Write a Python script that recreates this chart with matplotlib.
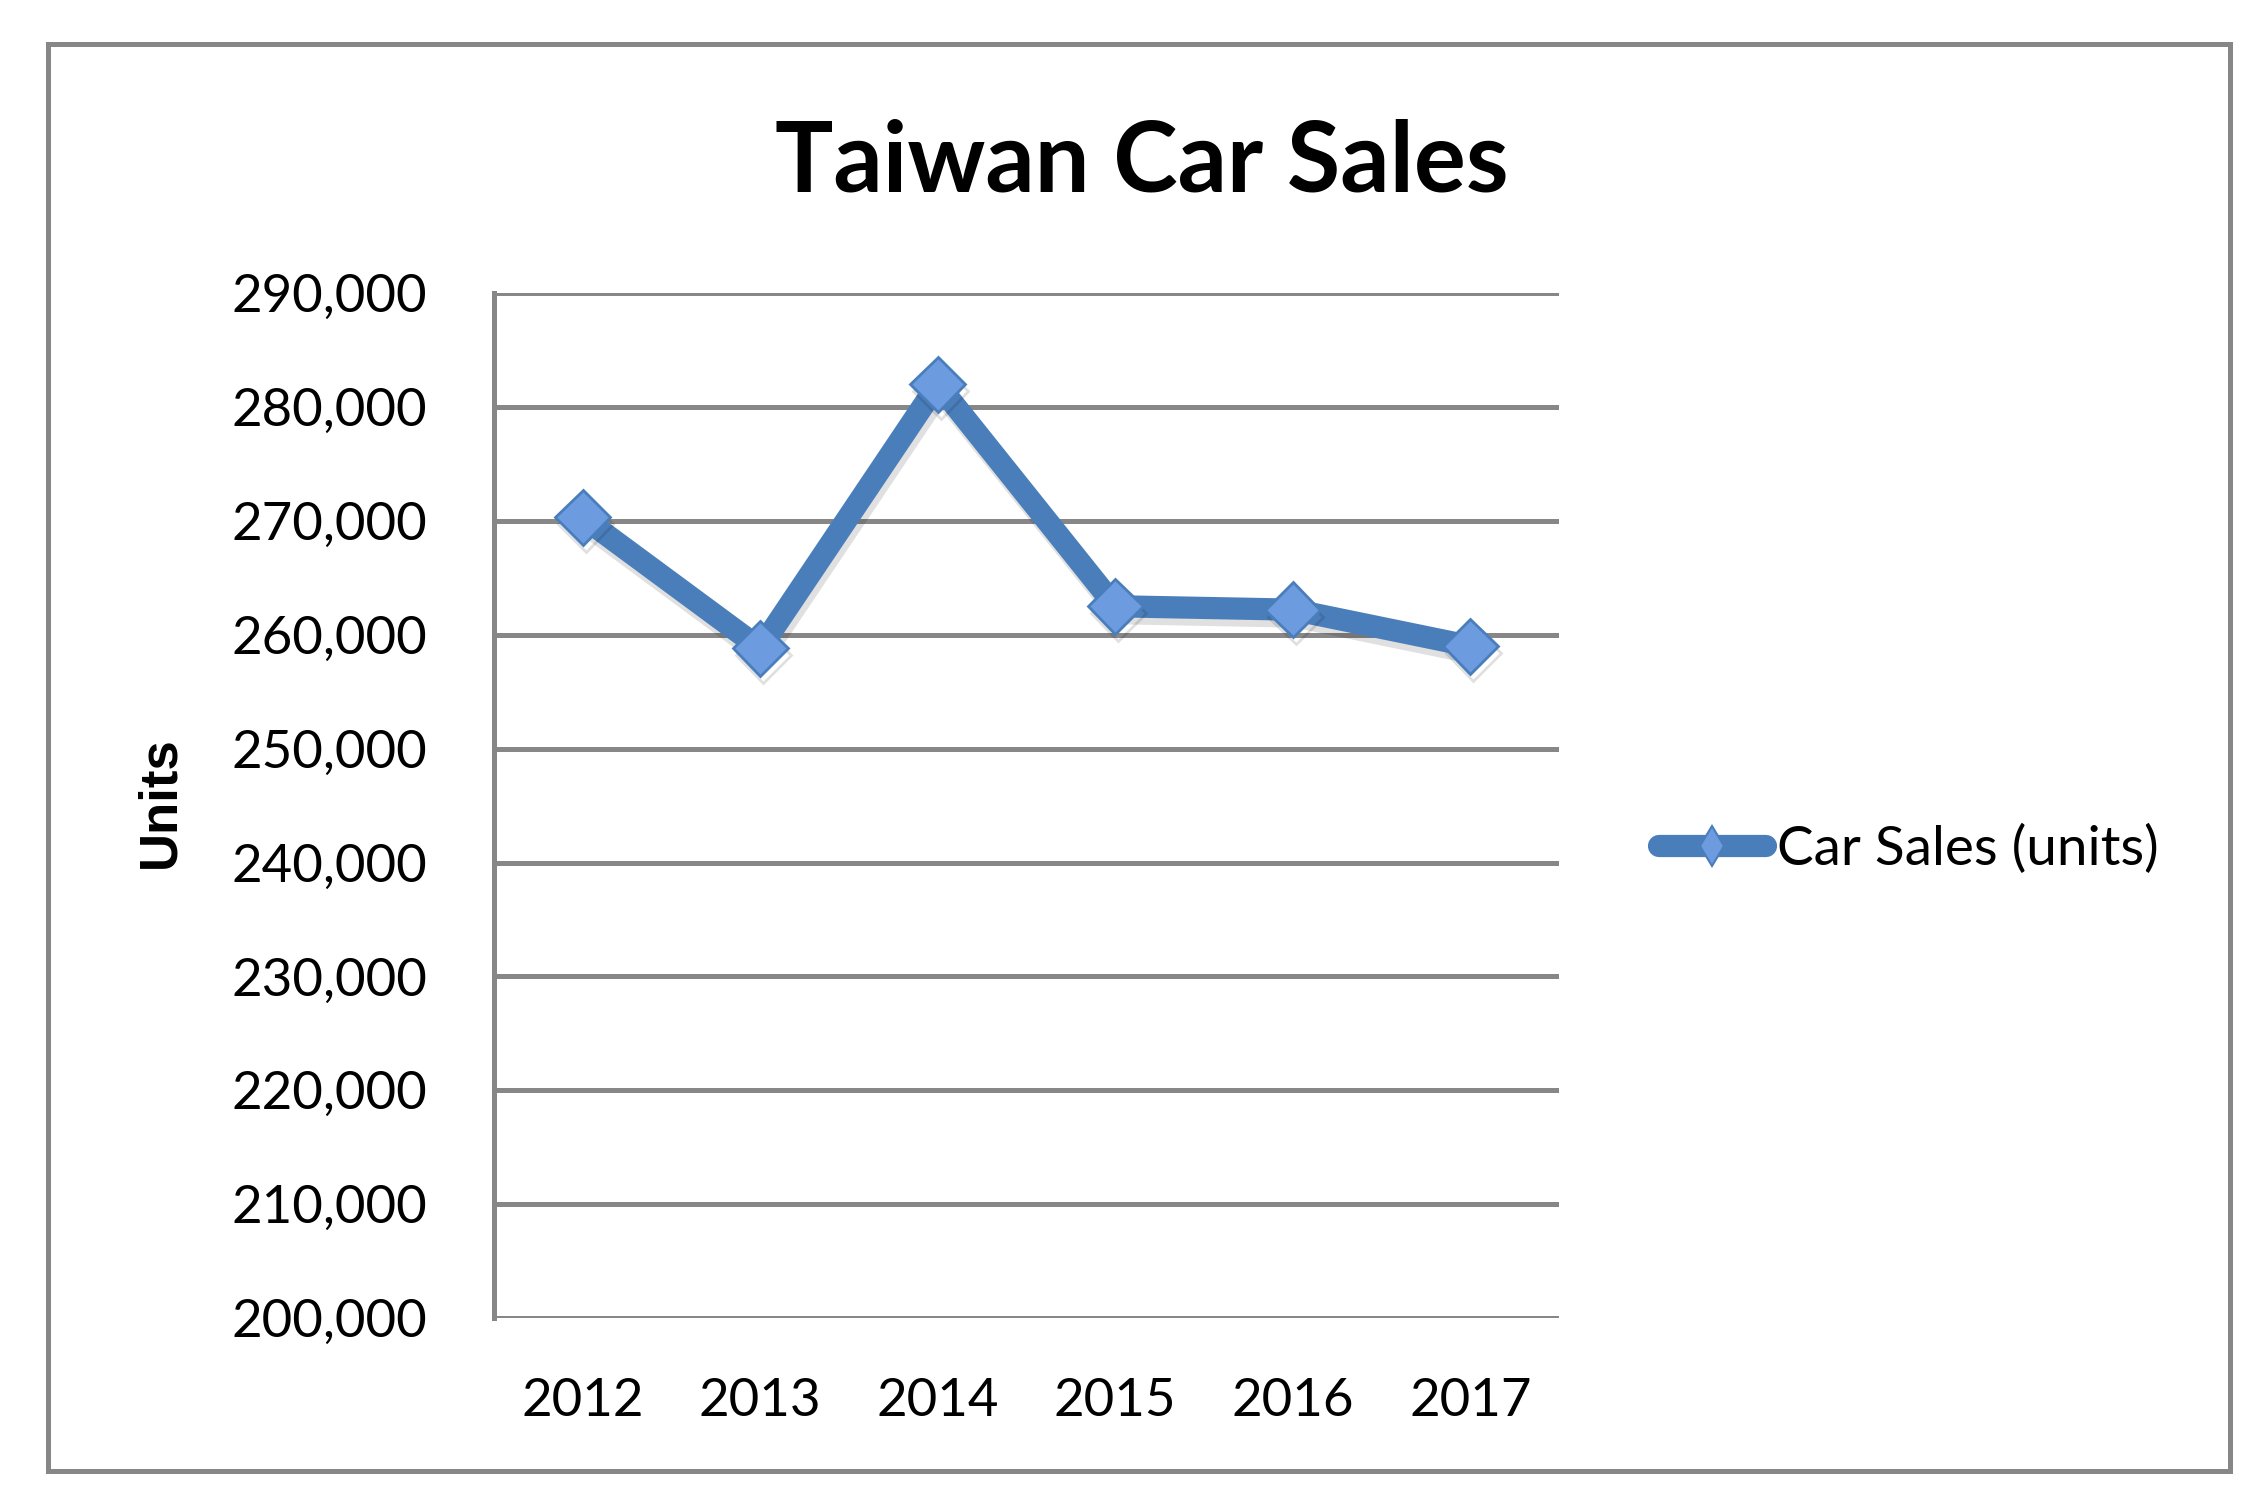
import matplotlib
matplotlib.use("Agg")
import matplotlib.pyplot as plt
from matplotlib.lines import Line2D
from matplotlib.patches import Rectangle
from matplotlib.ticker import FuncFormatter
import matplotlib.patheffects as pe

# data
years = ["2012", "2013", "2014", "2015", "2016", "2017"]
sales = [270300, 258800, 282000, 262500, 262200, 259000]
y_ticks = [200000, 210000, 220000, 230000, 240000, 250000, 260000, 270000, 280000, 290000]

LINE = "#4A7EBB"
FACE = "#6C9BDF"
GRID = "#878787"

plt.rcParams["font.family"] = ["Lato", "DejaVu Sans"]

fig = plt.figure(figsize=(22.66, 15.10), dpi=100)
fig.patch.set_facecolor("white")

# outer chart frame
fig.patches.append(Rectangle((0.021, 0.026), 0.963, 0.945, transform=fig.transFigure,
                             fill=False, edgecolor=GRID, linewidth=3.6))

ax = fig.add_axes([0.218, 0.127, 0.470, 0.679])
x = range(len(years))
ax.plot(x, sales, color=LINE, linewidth=16, marker="D", markersize=28,
        markerfacecolor=FACE, markeredgecolor=LINE, markeredgewidth=2,
        solid_joinstyle="miter", zorder=3,
        path_effects=[pe.SimpleLineShadow(offset=(2, -5), alpha=0.12), pe.Normal()])

ax.set_xlim(-0.5, len(years) - 0.5)
ax.set_ylim(200000, 290000)
ax.set_xticks(list(x))
ax.set_xticklabels(years)
ax.set_yticks(y_ticks)
ax.yaxis.set_major_formatter(FuncFormatter(lambda v, p: f"{int(v):,}"))
ax.tick_params(axis="both", length=0, labelsize=38, colors="black")
ax.tick_params(axis="x", pad=43)
ax.tick_params(axis="y", pad=48)

ax.grid(axis="y", color=GRID, linewidth=3.6)
ax.set_axisbelow(True)
for s in ["top", "right", "bottom"]:
    ax.spines[s].set_visible(False)
ax.spines["left"].set_color(GRID)
ax.spines["left"].set_linewidth(3.6)

ax.set_ylabel("Units", fontsize=38, fontweight="bold", family=["Liberation Sans", "DejaVu Sans"])
ax.yaxis.set_label_coords(-0.290, 0.503)

fig.text(0.504, 0.873, "Taiwan Car Sales", ha="center", va="baseline",
         fontsize=70, fontweight="bold")

handle = Line2D([], [], color=LINE, linewidth=16, marker="d", markersize=20,
                markerfacecolor=FACE, markeredgecolor=LINE, markeredgewidth=1.5,
                solid_capstyle="round")
ax.legend([handle], ["Car Sales (units)"], loc="center left",
          bbox_to_anchor=(0.732, 0.438), bbox_transform=fig.transFigure,
          frameon=False, fontsize=39.5, handlelength=1.95, handletextpad=0.2,
          borderpad=0, borderaxespad=0)

fig.savefig("out.png", dpi=100, facecolor="white")
